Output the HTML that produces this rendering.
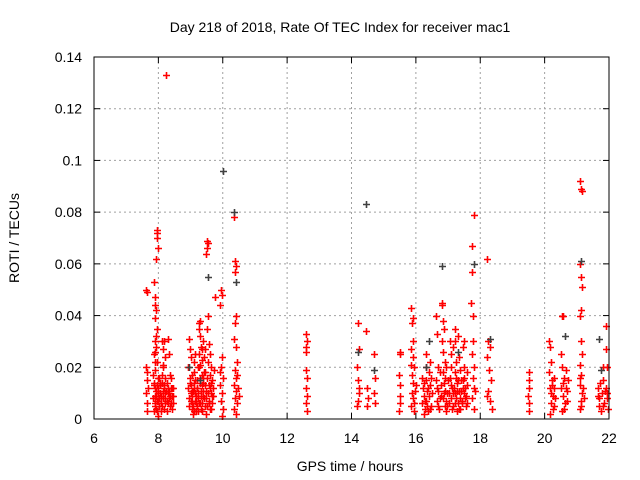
<!DOCTYPE html>
<html><head><meta charset="utf-8"><style>
body{margin:0;background:#fff;}
svg{display:block;font-family:"Liberation Sans",sans-serif;}
</style></head><body>
<svg id="chart" width="640" height="480">
<text x="340" y="32" text-anchor="middle" font-size="14">Day 218 of 2018, Rate Of TEC Index for receiver mac1</text>
<text x="350" y="471" text-anchor="middle" font-size="14">GPS time / hours</text>
<text transform="translate(19,238) rotate(-90)" text-anchor="middle" font-size="14">ROTI / TECUs</text>
<g id="grid"></g><g id="axes"></g><g id="marks"></g>
<rect x="94" y="57" width="515" height="362" fill="none" stroke="#000"/>
</svg>
<script>
const xTicks=[6,8,10,12,14,16,18,20,22];
const yTicks=[0,0.02,0.04,0.06,0.08,0.1,0.12,0.14];
const yTickLabels=["0","0.02","0.04","0.06","0.08","0.1","0.12","0.14"];
const redPts=[[7.62,.05],[7.65,.049],[7.62,.02],[7.65,.015],[7.63,.01],[7.66,.006],[7.64,.003],[7.68,.012],[7.66,.018],
[7.85,.053],[7.88,.047],[7.9,.044],[7.92,.042],[7.88,.039],[7.95,.035],[7.9,.03],[7.93,.028],[7.87,.025],[7.96,.022],[7.9,.019],[7.98,.016],[7.85,.013],[7.92,.011],[7.88,.009],[7.95,.007],[7.9,.005],[7.97,.003],[7.83,.008],[8.0,.01],[7.95,.072],[7.97,.073],[7.96,.07],[7.99,.066],[7.93,.062],[8.0,.012],[8.02,.008],[8.03,.005],[8.05,.01],[8.01,.016],[7.86,.003],[7.98,.001],
[8.1,.03],[8.13,.027],[8.15,.021],[8.12,.017],[8.1,.014],[8.17,.012],[8.2,.01],[8.13,.008],[8.22,.006],[8.16,.004],[8.25,.133],[8.28,.014],[8.3,.01],[8.33,.008],[8.35,.005],[8.38,.012],[8.4,.016],[8.42,.009],[8.45,.006],[8.27,.003],[8.3,.031],[8.32,.025],[8.35,.017],[8.44,.012],[8.18,.03],[8.22,.024],
[8.95,.031],[8.98,.027],[9.0,.024],[8.93,.02],[8.97,.016],[9.02,.013],[9.0,.01],[8.95,.008],[9.05,.006],[9.03,.004],[9.1,.022],[9.12,.018],[9.15,.015],[9.1,.012],[9.18,.009],[9.13,.007],[9.2,.005],[9.16,.003],[9.22,.02],[9.25,.035],[9.27,.037],[9.3,.038],[9.28,.032],[9.32,.028],[9.25,.025],[9.3,.021],[9.35,.017],[9.28,.014],[9.33,.011],[9.38,.009],[9.3,.006],[9.36,.003],[9.4,.03],[9.42,.024],[9.45,.018],[9.4,.014],[9.48,.011],[9.43,.008],[9.5,.005],[9.47,.002],[9.5,.069],[9.52,.066],[9.48,.064],[9.55,.068],[9.55,.04],[9.52,.035],[9.58,.029],[9.55,.022],[9.6,.017],[9.57,.013],[9.62,.01],[9.58,.006],[9.65,.004],[9.63,.02],[9.68,.015],[9.66,.009],[9.7,.012],[9.05,.017],[9.08,.011],[9.2,.012],[9.23,.008],[9.35,.023],[9.45,.027],[9.15,.025],[9.12,.003],[9.38,.016],[9.6,.025],[9.72,.019],[9.75,.047],
[9.95,.05],[9.97,.048],[9.93,.044],[9.98,.024],[9.95,.02],[10.0,.016],[9.93,.013],[9.98,.01],[9.95,.007],[10.0,.004],[9.97,.001],[9.92,.018],
[10.35,.078],[10.38,.061],[10.4,.059],[10.37,.057],[10.42,.04],[10.38,.037],[10.35,.031],[10.4,.028],[10.43,.022],[10.37,.019],[10.4,.016],[10.35,.013],[10.42,.011],[10.38,.008],[10.45,.006],[10.36,.004],[10.4,.002],[10.47,.012],[10.5,.009],[10.45,.017],
[12.6,.033],[12.62,.03],[12.58,.028],[12.6,.026],[12.63,.016],[12.6,.012],[12.62,.009],[12.58,.006],[12.61,.003],[12.6,.019],
[14.2,.037],[14.22,.027],[14.18,.02],[14.2,.015],[14.23,.01],[14.2,.007],[14.18,.005],[14.22,.012],
[14.45,.034],[14.47,.012],[14.5,.008],[14.48,.005],[14.7,.025],[14.72,.016],[14.7,.01],[14.73,.006],
[15.5,.026],[15.52,.025],[15.48,.017],[15.5,.013],[15.52,.009],[15.5,.006],[15.48,.003],
[15.85,.043],[15.9,.039],[15.88,.037],[15.92,.03],[15.85,.027],[15.9,.024],[15.95,.02],[15.87,.017],[15.92,.014],[15.97,.011],[15.9,.008],[15.85,.005],[15.95,.003],[16.0,.013],
[16.2,.016],[16.22,.012],[16.25,.009],[16.2,.006],[16.28,.004],[16.3,.025],[16.33,.02],[16.3,.015],[16.35,.011],[16.32,.007],[16.38,.003],[16.4,.018],[16.45,.013],[16.42,.009],[16.48,.005],[16.5,.01],[16.45,.022],[16.25,.002],
[16.62,.04],[16.65,.033],[16.68,.02],[16.62,.015],[16.7,.011],[16.65,.007],[16.72,.004],[16.8,.045],[16.82,.044],[16.85,.038],[16.88,.035],[16.8,.03],[16.85,.026],[16.9,.022],[16.83,.018],[16.88,.014],[16.92,.011],[16.85,.008],[16.9,.005],[16.95,.003],[16.95,.02],[17.0,.015],[16.98,.01],[16.75,.018],[16.78,.009],
[17.05,.03],[17.08,.025],[17.1,.02],[17.05,.016],[17.12,.012],[17.08,.008],[17.15,.005],[17.2,.035],[17.22,.03],[17.25,.022],[17.2,.018],[17.28,.014],[17.23,.01],[17.3,.006],[17.27,.003],[17.35,.024],[17.38,.019],[17.4,.015],[17.35,.011],[17.42,.007],[17.38,.004],[17.45,.028],[17.48,.02],[17.5,.016],[17.45,.012],[17.52,.008],[17.55,.005],[17.58,.018],[17.6,.013],[17.15,.028],[17.32,.032],[17.5,.03],
[17.75,.067],[17.8,.079],[17.73,.057],[17.78,.03],[17.75,.025],[17.8,.02],[17.77,.016],[17.82,.012],[17.75,.008],[17.8,.004],[17.85,.011],[17.72,.045],[17.78,.04],
[18.2,.062],[18.25,.03],[18.3,.028],[18.22,.024],[18.28,.019],[18.32,.015],[18.25,.011],[18.3,.007],[18.35,.004],[18.2,.009],
[19.5,.018],[19.52,.015],[19.5,.012],[19.48,.009],[19.5,.006],[19.52,.003],
[20.15,.03],[20.18,.028],[20.2,.022],[20.15,.018],[20.22,.015],[20.17,.012],[20.25,.009],[20.2,.006],[20.27,.004],[20.18,.002],[20.3,.012],[20.32,.008],[20.3,.016],
[20.55,.04],[20.58,.04],[20.5,.025],[20.55,.02],[20.6,.016],[20.52,.012],[20.58,.009],[20.62,.006],[20.55,.003],[20.7,.011],[20.68,.007],[20.72,.015],[20.65,.019],
[21.1,.092],[21.12,.089],[21.15,.088],[21.1,.06],[21.12,.055],[21.15,.051],[21.13,.042],[21.1,.04],[21.12,.03],[21.15,.025],[21.1,.021],[21.13,.017],[21.1,.013],[21.15,.01],[21.12,.007],[21.1,.004],[21.2,.012],[21.22,.008],
[21.65,.012],[21.7,.008],[21.68,.005],[21.75,.003],[21.8,.02],[21.82,.015],[21.78,.01],[21.85,.006],[21.9,.036],[21.92,.027],[21.95,.02],[21.9,.012],[21.93,.008],[21.98,.004]];
const extraPts=[[7.87,.014],[7.91,.012],[7.94,.009],[7.89,.006],[7.93,.004],[7.96,.013],[7.99,.007],[8.04,.013],[8.07,.006],[8.08,.009],[8.11,.005],[8.14,.011],[8.19,.013],[8.21,.008],[8.24,.011],[8.26,.007],[8.29,.012],[8.31,.006],[8.34,.011],[8.37,.009],[8.39,.006],[8.41,.012],[8.43,.004],[8.46,.009],[8.2,.016],[8.14,.02],
[8.92,.012],[8.96,.005],[8.99,.014],[9.01,.007],[9.04,.011],[9.06,.009],[9.09,.005],[9.11,.014],[9.14,.01],[9.17,.006],[9.19,.012],[9.21,.015],[9.24,.01],[9.26,.006],[9.29,.016],[9.31,.009],[9.34,.013],[9.37,.006],[9.39,.011],[9.41,.018],[9.44,.005],[9.46,.013],[9.49,.008],[9.51,.016],[9.53,.01],[9.56,.007],[9.59,.012],[9.61,.004],[9.64,.014],[9.67,.006],[9.69,.009],[9.26,.02],[9.34,.027],[9.32,.004],[9.22,.003],[9.07,.002],
[7.84,.017],[7.89,.022],[7.94,.032],[7.91,.026],[8.06,.014],[8.09,.003],
[16.24,.014],[16.27,.007],[16.36,.005],[16.39,.012],[16.44,.004],[16.47,.016],[16.66,.012],[16.69,.005],[16.74,.008],[16.77,.013],[16.87,.01],[16.91,.016],[16.93,.007],[16.97,.005],[17.02,.01],[17.04,.006],[17.09,.013],[17.11,.004],[17.14,.01],[17.18,.012],[17.21,.006],[17.24,.016],[17.26,.008],[17.29,.011],[17.31,.015],[17.33,.004],[17.36,.008],[17.41,.011],[17.44,.006],[17.47,.015],[17.49,.01],[17.53,.012],[17.56,.009],[17.59,.006],
[15.88,.01],[15.93,.006],[15.86,.021],[20.19,.01],[20.24,.013],[20.29,.005],[20.57,.014],[20.6,.004],[20.66,.012],[21.11,.016],[21.14,.005],[21.67,.009],[21.72,.014],[21.8,.005],[21.87,.011],[21.95,.01]];
const blackPts=[[10.0,.096],[10.35,.08],[14.45,.083],[16.82,.059],[17.82,.06],[21.12,.061],[9.55,.055],[10.4,.053],[14.7,.019],[14.2,.026],[16.4,.03],[17.3,.026],[18.3,.031],[21.7,.031],[21.75,.019],[16.3,.02],[20.62,.032],[8.95,.02],[9.3,.015]];
const NS="http://www.w3.org/2000/svg";
const X0=94,X1=609,Y0=419,Y1=57;
function xs(t){return X0+(t-6)/(22-6)*(X1-X0);}
function ys(v){return Y0-v/0.14*(Y0-Y1);}
function mk(tag,attrs,parent){const e=document.createElementNS(NS,tag);for(const k in attrs)e.setAttribute(k,attrs[k]);parent.appendChild(e);return e;}
const grid=document.getElementById('grid'),axes=document.getElementById('axes'),marks=document.getElementById('marks');
xTicks.forEach(t=>{const x=xs(t);
 if(t>6&&t<22){const g=mk('line',{x1:x,x2:x,y1:Y1,y2:Y0,stroke:'#a0a0a0','stroke-dasharray':'2,3'},grid);
 
 }
 mk('line',{x1:x,x2:x,y1:Y0,y2:Y0-6,stroke:'#000'},axes);
 mk('line',{x1:x,x2:x,y1:Y1,y2:Y1+6,stroke:'#000'},axes);
 const l=mk('text',{x:x,y:443,'text-anchor':'middle','font-size':14},axes);l.textContent=t;
 
 
});
yTicks.forEach((v,i)=>{const y=ys(v);
 if(i>0&&i<yTicks.length-1){const g=mk('line',{x1:X0,x2:X1,y1:y,y2:y,stroke:'#a0a0a0','stroke-dasharray':'2,3'},grid);
 
 }
 mk('line',{x1:X0,x2:X0+6,y1:y,y2:y,stroke:'#000'},axes);
 mk('line',{x1:X1,x2:X1-6,y1:y,y2:y,stroke:'#000'},axes);
 const l=mk('text',{x:82,y:y+5,'text-anchor':'end','font-size':14},axes);l.textContent=yTickLabels[i];
 
 
});
function plus(p,color,name){const x=Math.round(xs(p[0]))+0.5,y=Math.round(ys(p[1]))+0.5;
 const e=mk('path',{d:`M${x-3.5},${y}h7M${x},${y-3.5}v7`,stroke:color,'stroke-width':1.6,fill:'none'},marks);
 
 }
redPts.forEach(p=>plus(p,'#ff0000','red-point'));
extraPts.forEach(p=>plus(p,'#ff0000','red-point'));
blackPts.forEach(p=>plus(p,'#404040','black-point'));
</script>
</body></html>
